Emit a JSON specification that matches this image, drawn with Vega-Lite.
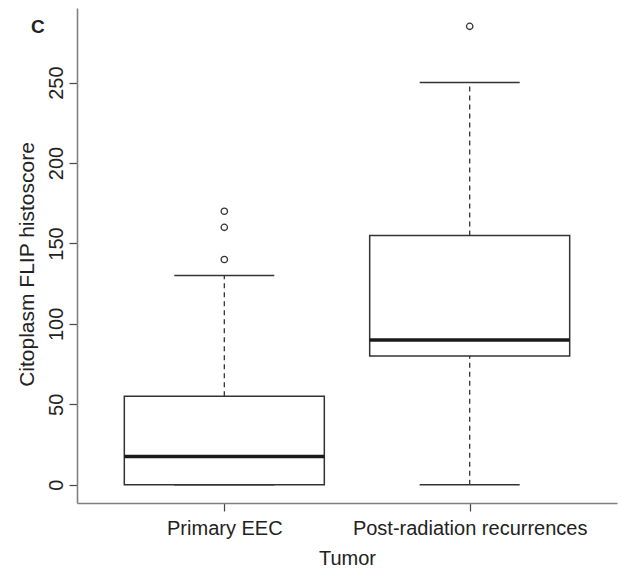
{
  "$schema": "https://vega.github.io/schema/vega-lite/v6.json",
  "width": 540,
  "height": 495,
  "autosize": {"type": "none"},
  "padding": {"left": 77, "top": 8, "right": 4, "bottom": 66},
  "background": "white",
  "config": {"view": {"stroke": null}, "font": "Liberation Sans"},
  "title": {"text": "C", "anchor": "start", "frame": "group", "fontSize": 19, "fontWeight": "bold", "font": "Liberation Sans", "color": "#222222", "offset": -29, "dx": -46},
  "datasets": {
    "boxes": [
      {"group": "Primary EEC", "pos": 1, "lower": 0, "q1": 0, "median": 17.5, "q3": 55, "upper": 130},
      {"group": "Post-radiation recurrences", "pos": 2, "lower": 0, "q1": 80, "median": 90, "q3": 155, "upper": 250}
    ],
    "outliers": [
      {"group": "Primary EEC", "pos": 1, "value": 140},
      {"group": "Primary EEC", "pos": 1, "value": 160},
      {"group": "Primary EEC", "pos": 1, "value": 170},
      {"group": "Post-radiation recurrences", "pos": 2, "value": 285}
    ]
  },
  "layer": [
    {
      "data": {"name": "boxes"},
      "mark": {"type": "rule", "color": "#333333", "strokeWidth": 1.3, "strokeDash": [5, 4]},
      "encoding": {
        "x": {"field": "pos", "type": "quantitative", "scale": {"domain": [0.42, 2.58], "nice": false, "zero": false},
          "axis": {"values": [1, 2], "labelExpr": "datum.value == 1 ? 'Primary EEC' : 'Post-radiation recurrences'", "title": "Tumor", "grid": false, "tickSize": 8, "tickColor": "#444444", "tickWidth": 1.2, "domainColor": "#808080", "domainWidth": 1.6, "labelFontSize": 20, "labelColor": "#222222", "labelPadding": 7, "labelBaseline": "top", "labelFlush": false, "labelOverlap": false, "labelLimit": 0, "titleFontSize": 20, "titleFontWeight": "normal", "titleColor": "#222222", "titleY": 61, "titleBaseline": "alphabetic"}},
        "y": {"field": "q3", "type": "quantitative", "scale": {"domain": [-11.4, 296.4], "nice": false, "zero": false},
          "axis": {"values": [0, 50, 100, 150, 200, 250], "grid": false, "tickSize": 8, "tickColor": "#444444", "tickWidth": 1.2, "domainColor": "#808080", "domainWidth": 1.6, "labelFontSize": 20, "labelColor": "#222222", "labelAngle": -90, "labelAlign": "center", "labelBaseline": "alphabetic", "labelPadding": 7, "labelFlush": false, "labelOverlap": false, "title": "Citoplasm FLIP histoscore", "titleFontSize": 21, "titleFontWeight": "normal", "titleColor": "#222222", "titleAngle": -90, "titleAlign": "center", "titleBaseline": "alphabetic", "titleX": -43.5, "titleY": 256}},
        "y2": {"field": "upper"}
      }
    },
    {
      "data": {"name": "boxes"},
      "mark": {"type": "rule", "color": "#333333", "strokeWidth": 1.3, "strokeDash": [5, 4]},
      "encoding": {
        "x": {"field": "pos", "type": "quantitative"},
        "y": {"field": "lower", "type": "quantitative"},
        "y2": {"field": "q1"}
      }
    },
    {
      "data": {"name": "boxes"},
      "mark": {"type": "tick", "orient": "horizontal", "size": 100, "thickness": 1.5, "color": "#333333", "opacity": 1},
      "encoding": {
        "x": {"field": "pos", "type": "quantitative"},
        "y": {"field": "upper", "type": "quantitative"}
      }
    },
    {
      "data": {"name": "boxes"},
      "mark": {"type": "tick", "orient": "horizontal", "size": 100, "thickness": 1.5, "color": "#333333", "opacity": 1},
      "encoding": {
        "x": {"field": "pos", "type": "quantitative"},
        "y": {"field": "lower", "type": "quantitative"}
      }
    },
    {
      "data": {"name": "boxes"},
      "mark": {"type": "bar", "orient": "vertical", "size": 200, "fill": "white", "stroke": "#333333", "strokeWidth": 1.5, "opacity": 1},
      "encoding": {
        "x": {"field": "pos", "type": "quantitative"},
        "y": {"field": "q1", "type": "quantitative"},
        "y2": {"field": "q3"}
      }
    },
    {
      "data": {"name": "boxes"},
      "mark": {"type": "tick", "orient": "horizontal", "size": 200, "thickness": 3.5, "color": "#1a1a1a", "opacity": 1},
      "encoding": {
        "x": {"field": "pos", "type": "quantitative"},
        "y": {"field": "median", "type": "quantitative"}
      }
    },
    {
      "data": {"name": "outliers"},
      "mark": {"type": "point", "shape": "circle", "filled": false, "size": 40, "stroke": "#333333", "strokeWidth": 1.3, "opacity": 1},
      "encoding": {
        "x": {"field": "pos", "type": "quantitative"},
        "y": {"field": "value", "type": "quantitative"}
      }
    }
  ]
}
